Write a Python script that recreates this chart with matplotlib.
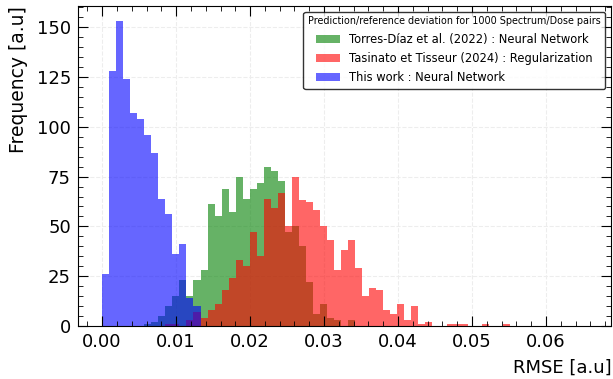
import matplotlib.pyplot as plt
import numpy as np

# common histogram bins (RMSE)
bin_width = 0.00095
n_bins = 69
edges = np.arange(n_bins + 1) * bin_width
centers = edges[:-1] + bin_width / 2

# counts, each list starts at the given bin index
torres_start = 6
torres_counts = [1, 2, 5, 10, 15, 23, 15, 23, 28, 61, 55, 69, 57, 75, 64, 69, 72, 80, 78, 73,
                 47, 50, 40, 22, 6, 11, 4, 3, 0, 3]

tasinato_start = 9
tasinato_counts = [1, 1, 0, 3, 7, 4, 8, 11, 18, 24, 33, 30, 47, 35, 64, 59, 67, 50, 75, 63,
                   62, 58, 50, 43, 28, 38, 43, 29, 15, 19, 18, 8, 6, 11, 3, 10, 1, 2, 0, 0,
                   1, 1, 1, 0, 0, 1, 0, 0, 1]

thiswork_start = 0
thiswork_counts = [26, 128, 153, 124, 107, 104, 96, 87, 64, 56, 36, 41, 14, 10]

labels = ['Torres-Díaz et al. (2022) : Neural Network',
          'Tasinato et Tisseur (2024) : Regularization',
          'This work : Neural Network']
colors = ['green', 'red', 'blue']

xticks = [0.0, 0.01, 0.02, 0.03, 0.04, 0.05, 0.06]
yticks = [0, 25, 50, 75, 100, 125, 150]


def full(start, counts):
    c = np.zeros(n_bins)
    c[start:start + len(counts)] = counts
    return c


series = [full(torres_start, torres_counts),
          full(tasinato_start, tasinato_counts),
          full(thiswork_start, thiswork_counts)]

fig, ax = plt.subplots(figsize=(6.13, 3.79), dpi=100)
fig.subplots_adjust(left=0.127, right=0.997, bottom=0.14, top=0.984)

# light grid behind the bars
for x in xticks:
    ax.axvline(x, color='0.93', linestyle='--', linewidth=0.8, zorder=0)
for y in yticks[1:]:
    ax.axhline(y, color='0.93', linestyle='--', linewidth=0.8, zorder=0)

for c, col, lab in zip(series, colors, labels):
    ax.hist(centers, bins=edges, weights=c, color=col, alpha=0.6, label=lab)

ax.set_xlim(-0.00328, 0.0688)
ax.set_xticks(xticks)
ax.set_xticks(np.arange(-0.002, 0.069, 0.002), minor=True)
ax.set_yticks(yticks)
ax.set_yticks(np.arange(0, 161, 5), minor=True)
ax.tick_params(which='both', direction='in', top=True, right=True, labelsize=13, pad=5)
ax.tick_params(which='major', length=7)
ax.tick_params(which='minor', length=3.5)

ax.set_xlabel('RMSE [a.u]', fontsize=13, loc='right', labelpad=6)
ax.set_ylabel('Frequency [a.u]', fontsize=13.5, loc='top', labelpad=6)

leg = ax.legend(loc='upper right', fontsize=8.3, labelspacing=0.55,
                title='Prediction/reference deviation for 1000 Spectrum/Dose pairs',
                title_fontsize=6.9, edgecolor='k')

plt.savefig('out.png', dpi=100)
